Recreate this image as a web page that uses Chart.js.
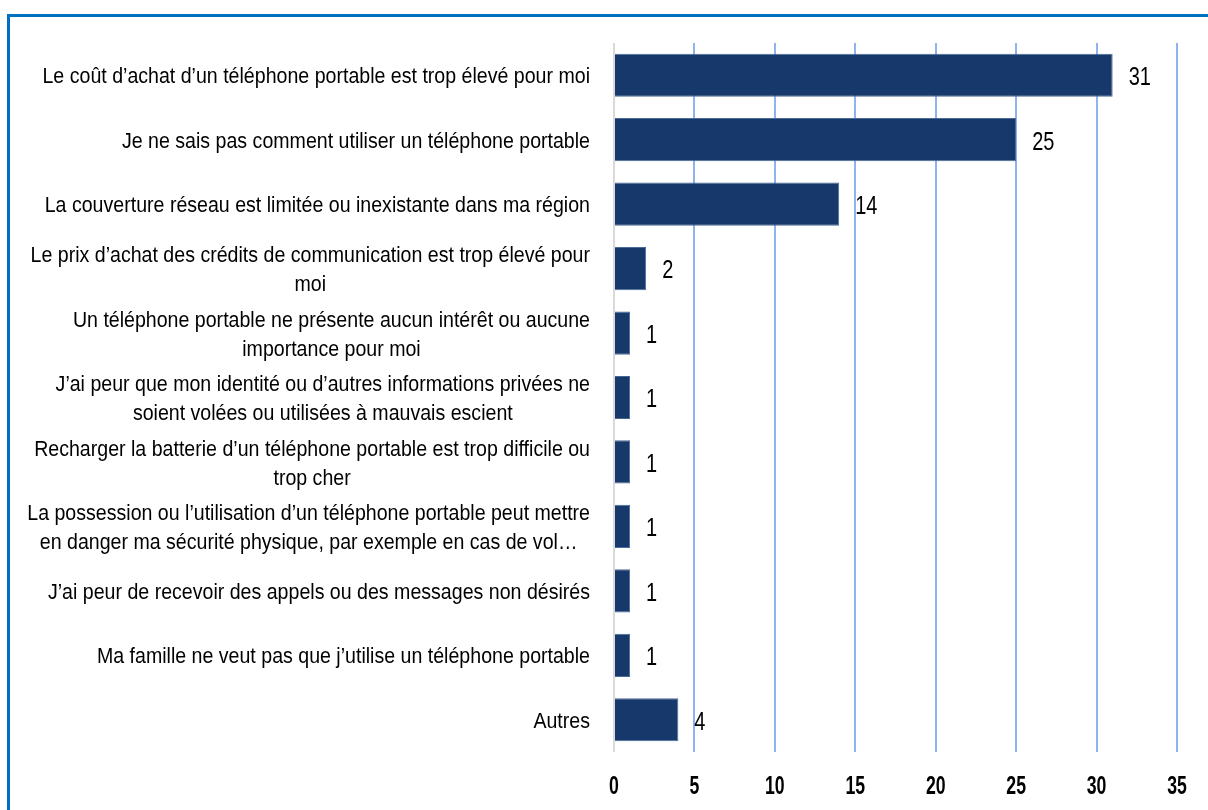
<!DOCTYPE html>
<html lang="fr">
<head>
  <meta charset="UTF-8">
  <title>Raisons de ne pas posséder de téléphone portable</title>
  <script src="https://cdn.jsdelivr.net/npm/chart.js"></script>
  <style>
    html, body {
      margin: 0;
      padding: 0;
      width: 1208px;
      height: 810px;
      overflow: hidden;
      background: #fff;
    }
    .frame {
      position: absolute;
      left: 7px;
      top: 14px;
      width: 1300px;
      height: 900px;
      border: 3px solid #0070c0;
      box-sizing: border-box;
    }
    #wrap {
      position: absolute;
      left: 0; top: 0;
      width: 1208px;
      height: 810px;
    }
  </style>
</head>
<body>
  <div class="frame"></div>
  <div id="wrap"><canvas id="chart"></canvas></div>

  <script>
    const categories = [
      ['Le coût d’achat d’un téléphone portable est trop élevé pour moi'],
      ['Je ne sais pas comment utiliser un téléphone portable'],
      ['La couverture réseau est limitée ou inexistante dans ma région'],
      ['Le prix d’achat des crédits de communication est trop élevé pour', 'moi'],
      ['Un téléphone portable ne présente aucun intérêt ou aucune', 'importance pour moi'],
      ['J’ai peur que mon identité ou d’autres informations privées ne', 'soient volées ou utilisées à mauvais escient'],
      ['Recharger la batterie d’un téléphone portable est trop difficile ou', 'trop cher'],
      ['La possession ou l’utilisation d’un téléphone portable peut mettre', 'en danger ma sécurité physique, par exemple en cas de vol…'],
      ['J’ai peur de recevoir des appels ou des messages non désirés'],
      ['Ma famille ne veut pas que j’utilise un téléphone portable'],
      ['Autres']
    ];
    const values = [31, 25, 14, 2, 1, 1, 1, 1, 1, 1, 4];
    const xTicks = [0, 5, 10, 15, 20, 25, 30, 35];

    const FONT = "'Liberation Sans', Arial, sans-serif";

    // draw text squeezed horizontally (narrow face look)
    function squeezed(ctx, text, x, y, sx) {
      ctx.save();
      ctx.translate(x, y);
      ctx.scale(sx, 1);
      ctx.fillText(text, 0, 0);
      ctx.restore();
    }

    // category labels: block right-aligned against the axis, lines centred inside the block
    const categoryLabels = {
      id: 'categoryLabels',
      afterDraw(chart) {
        const { ctx } = chart;
        const y = chart.scales.y;
        const right = chart.chartArea.left - 24;
        const sx = 0.89;
        const lineH = 29;
        ctx.save();
        ctx.font = '22px ' + FONT;
        ctx.fillStyle = '#000';
        ctx.textBaseline = 'middle';
        ctx.textAlign = 'center';
        categories.forEach((lines, i) => {
          const cy = y.getPixelForTick(i) + 2;
          const w = Math.max(...lines.map(l => ctx.measureText(l).width)) * sx;
          const cx = right - w / 2;
          lines.forEach((l, k) => {
            squeezed(ctx, l, cx, cy + (k - (lines.length - 1) / 2) * lineH, sx);
          });
        });
        ctx.restore();
      }
    };

    // x tick numbers under the plot, bold and narrow
    const xTickLabels = {
      id: 'xTickLabels',
      afterDraw(chart) {
        const { ctx } = chart;
        const x = chart.scales.x;
        const ty = chart.chartArea.bottom + 35;
        ctx.save();
        ctx.font = 'bold 26px ' + FONT;
        ctx.fillStyle = '#000';
        ctx.textBaseline = 'middle';
        ctx.textAlign = 'center';
        xTicks.forEach(v => squeezed(ctx, String(v), x.getPixelForValue(v), ty, 0.68));
        ctx.restore();
      }
    };

    // value printed after the end of each bar
    const valueLabels = {
      id: 'valueLabels',
      afterDatasetsDraw(chart) {
        const { ctx } = chart;
        const meta = chart.getDatasetMeta(0);
        ctx.save();
        ctx.font = '25px ' + FONT;
        ctx.fillStyle = '#000';
        ctx.textBaseline = 'middle';
        ctx.textAlign = 'left';
        meta.data.forEach((bar, i) => {
          squeezed(ctx, String(values[i]), bar.x + 16, bar.y + 3, 0.8);
        });
        ctx.restore();
      }
    };

    new Chart(document.getElementById('chart'), {
      type: 'bar',
      data: {
        labels: categories.map(c => c.join(' ')),
        datasets: [{
          data: values,
          backgroundColor: '#17386a',
          borderColor: '#4b6a98',
          borderWidth: 1,
          barPercentage: 0.67,
          categoryPercentage: 1
        }]
      },
      options: {
        indexAxis: 'y',
        responsive: true,
        maintainAspectRatio: false,
        animation: false,
        layout: { padding: { top: 43, right: 31, bottom: 0, left: 0 } },
        plugins: {
          legend: { display: false },
          tooltip: { enabled: false }
        },
        scales: {
          x: {
            min: 0,
            max: 35,
            afterBuildTicks: s => { s.ticks = xTicks.map(v => ({ value: v })); },
            afterFit: s => { s.height = 58; s.paddingLeft = 0; s.paddingRight = 0; },
            border: { display: false },
            grid: {
              drawTicks: false,
              lineWidth: 2,
              color: c => c.index === 0 ? '#d9d9d9' : '#8fb3ee'
            },
            ticks: { display: false }
          },
          y: {
            afterFit: s => { s.width = 614; },
            border: { display: false },
            grid: { display: false },
            ticks: { display: false }
          }
        }
      },
      plugins: [categoryLabels, xTickLabels, valueLabels]
    });
  </script>
</body>
</html>
